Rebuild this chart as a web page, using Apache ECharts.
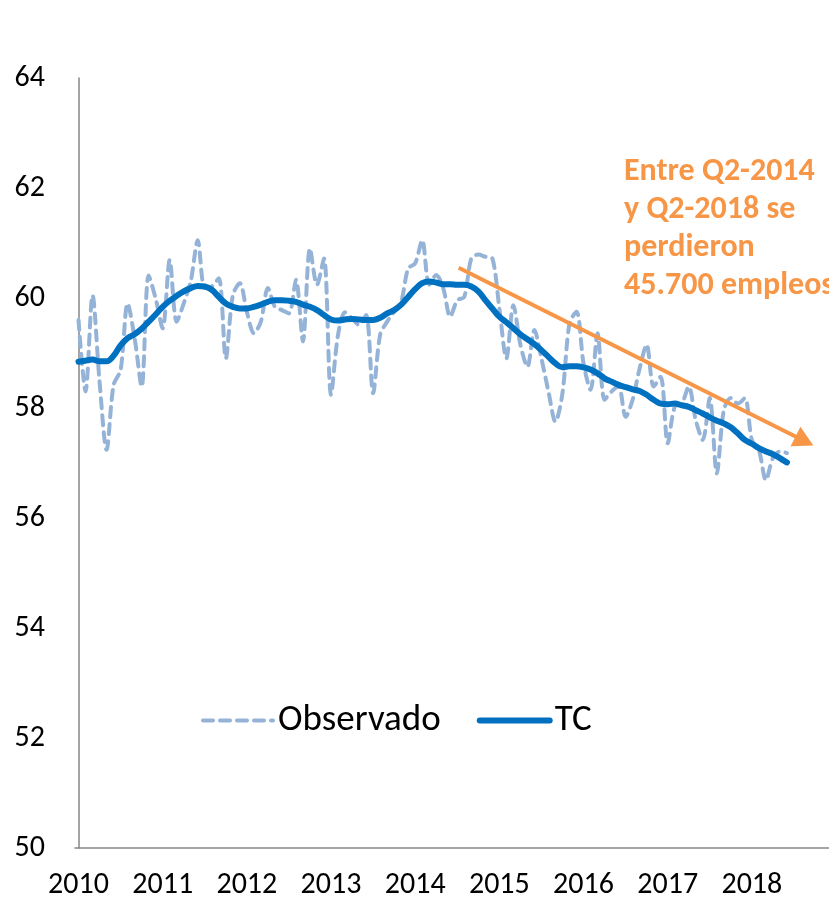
<!DOCTYPE html>
<html><head><meta charset="utf-8">
<script src="https://cdn.jsdelivr.net/npm/echarts@6/dist/echarts.min.js"></script>
<style>html,body{margin:0;padding:0;background:#fff}#c{width:829px;height:903px}</style>
</head><body><div id="c"></div>
<script>
// Monthly data, Jan 2010 (index 0) .. Jun 2018 (index 101)
var yearLabels = ['2010','2011','2012','2013','2014','2015','2016','2017','2018'];
var observado = [
59.60,58.30,60.05,58.48,57.24,58.42,58.69,59.90,59.27,58.39,60.41,59.99,
59.45,60.69,59.57,59.90,60.30,61.05,60.18,60.21,60.36,58.90,60.05,60.27,
59.75,59.36,59.57,60.18,59.84,59.78,59.72,60.33,59.21,60.90,60.24,60.72,
58.24,59.33,59.74,59.63,59.51,59.69,58.27,59.33,59.57,59.75,59.93,60.54,
60.63,61.05,60.24,60.42,60.18,59.66,59.96,60.02,60.72,60.79,60.75,60.72,
59.81,58.90,59.87,59.15,58.75,59.42,58.90,58.30,57.75,58.27,59.54,59.75,
58.81,58.33,59.36,58.15,58.30,58.39,57.84,58.15,58.72,59.15,58.39,58.57,
57.36,58.02,58.08,58.39,57.78,57.42,58.18,56.81,57.96,58.18,58.08,58.18,
57.42,57.24,56.69,57.09,57.21,57.18];
var tc = [
58.84,58.86,58.88,58.85,58.85,58.95,59.14,59.27,59.34,59.44,59.57,59.70,
59.84,59.95,60.04,60.12,60.18,60.22,60.21,60.15,60.02,59.90,59.84,59.81,
59.81,59.84,59.88,59.93,59.96,59.96,59.95,59.93,59.88,59.84,59.78,59.69,
59.61,59.59,59.61,59.62,59.61,59.60,59.60,59.64,59.72,59.78,59.88,60.02,
60.16,60.27,60.30,60.28,60.25,60.25,60.24,60.24,60.21,60.12,59.96,59.81,
59.66,59.56,59.45,59.34,59.25,59.16,59.05,58.93,58.81,58.74,58.76,58.76,
58.74,58.70,58.63,58.54,58.48,58.42,58.38,58.34,58.31,58.24,58.15,58.08,
58.07,58.08,58.05,58.02,57.96,57.90,57.83,57.77,57.72,57.65,57.54,57.42,
57.35,57.27,57.21,57.16,57.09,57.01];
var yTicks = [50,52,54,56,58,60,62,64];
var arrowStart = [54.2, 60.55];
var arrowEnd = [103.5, 57.40];
var annotation = ['Entre Q2-2014','y Q2-2018 se','perdieron','45.700 empleos'];

var FONT = 'Carlito, Lato, sans-serif';
var ORANGE = '#F79646';
var chart = echarts.init(document.getElementById('c'), null, {renderer:'canvas'});
chart.setOption({
  animation: false,
  backgroundColor: '#fff',
  grid: {left: 75, right: 0, top: 78, bottom: 55, containLabel: false},
  xAxis: {
    type: 'value', min: -0.5, max: 107,
    axisLine: {show: true, onZero: false, lineStyle: {color: '#868686', width: 1.5}},
    axisTick: {show: false},
    splitLine: {show: false},
    axisLabel: {
      customValues: yearLabels.map(function(_, k){ return k * 12; }),
      formatter: function(v){ return yearLabels[Math.round(v / 12)]; },
      color: '#000', fontFamily: FONT, fontSize: 30, margin: 22
    }
  },
  yAxis: {
    type: 'value', min: yTicks[0], max: yTicks[yTicks.length-1], interval: 2,
    axisLine: {show: true, lineStyle: {color: '#868686', width: 1.5}},
    axisTick: {show: false},
    splitLine: {show: false},
    axisLabel: {color: '#000', fontFamily: FONT, fontSize: 30, margin: 30}
  },
  legend: {
    left: 196, top: 697,
    itemWidth: 70, itemHeight: 14, itemGap: 36,
    itemStyle: {opacity: 0},
    textStyle: {color: '#000', fontFamily: FONT, fontSize: 37, padding: [0,0,0,0]},
    data: [
      {name: 'Observado', lineStyle: {width: 4, type: [10, 7], cap: 'round'}},
      {name: 'TC', lineStyle: {width: 6, cap: 'round'}}
    ]
  },
  series: [
    {
      name: 'Observado', type: 'line', smooth: 0.3, symbol: 'none',
      data: observado.map(function(v, i){ return [i, v]; }),
      lineStyle: {color: '#95B3D7', width: 4, type: [10, 7], cap: 'round'},
      itemStyle: {color: '#95B3D7'}, z: 2
    },
    {
      name: 'TC', type: 'line', smooth: 0.4, symbol: 'none',
      data: tc.map(function(v, i){ return [i, v]; }),
      lineStyle: {color: '#0070C0', width: 6, cap: 'round'},
      itemStyle: {color: '#0070C0'}, z: 3,
      markLine: {
        silent: true, symbol: ['none', 'triangle'], symbolSize: [22, 20],
        label: {show: false},
        lineStyle: {color: ORANGE, width: 4, type: 'solid'},
        data: [[{coord: arrowStart}, {coord: arrowEnd}]]
      }
    }
  ],
  graphic: [{
    type: 'text', left: 624, top: 153,
    style: {text: annotation.join('\n'), fill: ORANGE, font: 'bold 32px ' + FONT, lineHeight: 38}
  }]
});
</script></body></html>
